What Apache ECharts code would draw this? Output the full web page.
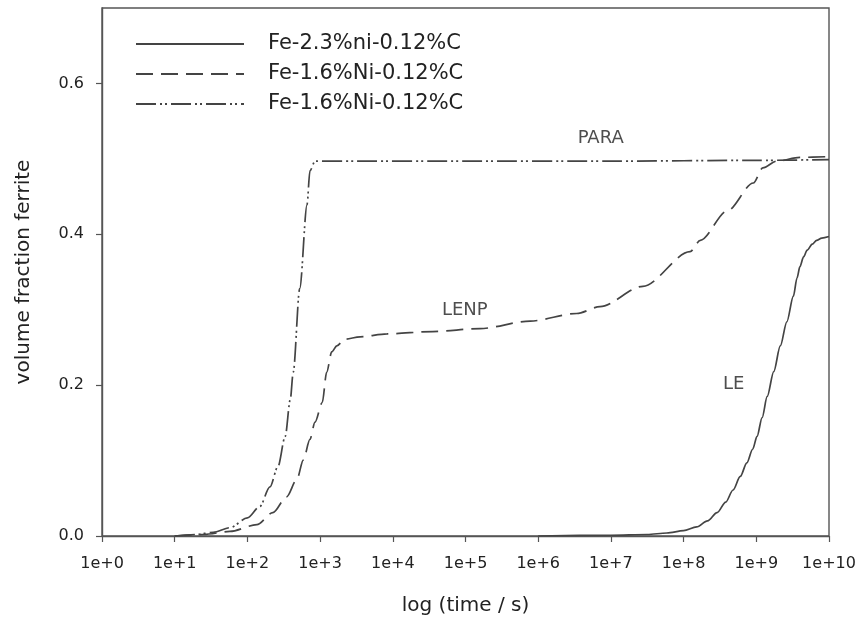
<!DOCTYPE html>
<html>
<head>
<meta charset="utf-8">
<script src="https://cdn.jsdelivr.net/npm/echarts@6/dist/echarts.min.js"></script>
<style>
  html, body { margin: 0; padding: 0; background: #fff; }
  #chart { width: 860px; height: 625px; }
</style>
</head>
<body>
<div id="chart"></div>
<script>
// x values are log10(time / s); y values are the ferrite volume fraction.

// Fe-2.3%Ni-0.12%C, local equilibrium (LE)
const leLogTime = [6.0, 7.0, 7.5, 7.77, 8.0, 8.18, 8.33, 8.46, 8.58, 8.68, 8.78, 8.87, 8.95, 9.01, 9.08, 9.15, 9.24, 9.33, 9.42, 9.51, 9.56, 9.6, 9.65, 9.7, 9.77, 9.83, 9.9, 10.0];
const leFraction = [0.000, 0.001, 0.002, 0.004, 0.007, 0.012, 0.020, 0.031, 0.045, 0.061, 0.079, 0.097, 0.115, 0.132, 0.157, 0.185, 0.218, 0.252, 0.284, 0.318, 0.342, 0.357, 0.370, 0.379, 0.387, 0.392, 0.395, 0.397];

// Fe-1.6%Ni-0.12%C, local equilibrium with negligible partitioning (LENP)
const lenpLogTime = [1.0, 1.4, 1.76, 2.13, 2.35, 2.54, 2.68, 2.77, 2.86, 2.93, 3.03, 3.09, 3.16, 3.23, 3.34, 3.55, 3.92, 4.55, 5.2, 5.89, 6.53, 6.85, 7.44, 8.09, 8.23, 8.6, 8.96, 9.09, 9.28, 9.6, 10.0];
const lenpFraction = [0.000, 0.002, 0.006, 0.015, 0.031, 0.052, 0.075, 0.101, 0.128, 0.151, 0.177, 0.217, 0.244, 0.252, 0.261, 0.264, 0.268, 0.271, 0.275, 0.285, 0.295, 0.304, 0.331, 0.377, 0.392, 0.431, 0.468, 0.488, 0.497, 0.502, 0.503];

// Fe-1.6%Ni-0.12%C, paraequilibrium (PARA)
const paraLogTime = [1.0, 1.3, 1.53, 1.76, 2.0, 2.17, 2.31, 2.42, 2.52, 2.59, 2.63, 2.72, 2.82, 2.86, 2.93, 3.5, 5.0, 7.0, 9.0, 10.0];
const paraFraction = [0.000, 0.002, 0.005, 0.011, 0.024, 0.039, 0.065, 0.092, 0.132, 0.181, 0.217, 0.328, 0.439, 0.484, 0.497, 0.497, 0.497, 0.497, 0.498, 0.499];

// legend entries, in series order
const seriesKeys = ['LE', 'LENP', 'PARA'];
const legendLabels = ['Fe-2.3%ni-0.12%C', 'Fe-1.6%Ni-0.12%C', 'Fe-1.6%Ni-0.12%C'];

// curve labels: [log10 time, fraction, text]
const curveLabels = [
  [6.86, 0.527, 'PARA'],
  [4.99, 0.299, 'LENP'],
  [8.69, 0.201, 'LE']
];

// axis ranges and ticks
const xMin = 0, xMax = 10, xStep = 1;
const yMin = 0, yMax = 0.7, yStep = 0.2;

const pair = (xs, ys) => xs.map((x, i) => [x, ys[i]]);

const ink = '#444444';
const textInk = '#222222';
const font = 'DejaVu Sans';

const lineBase = {
  type: 'line',
  symbol: 'none',
  smooth: 0.3,
  smoothMonotone: 'x',
  silent: true,
  z: 3
};

const chart = echarts.init(document.getElementById('chart'), null, { renderer: 'canvas' });

chart.setOption({
  animation: false,
  backgroundColor: '#ffffff',
  grid: {
    left: 102, right: 31, top: 8, bottom: 89,
    show: true, borderColor: '#555', borderWidth: 1.4, backgroundColor: 'transparent'
  },
  legend: {
    orient: 'vertical',
    left: 130, top: 28,
    itemWidth: 108, itemHeight: 14, itemGap: 8,
    data: seriesKeys,
    selectedMode: false,
    itemStyle: { opacity: 0 },
    formatter: name => legendLabels[seriesKeys.indexOf(name)],
    textStyle: { fontFamily: font, fontSize: 21, color: textInk, lineHeight: 22, padding: [0, 0, 0, 19] }
  },
  xAxis: {
    type: 'value',
    min: xMin, max: xMax, interval: xStep,
    name: 'log (time / s)',
    nameLocation: 'middle', nameGap: 60,
    nameTextStyle: { fontFamily: font, fontSize: 20, color: textInk },
    axisLine: { show: true, onZero: false, lineStyle: { color: '#555', width: 1.4 } },
    axisTick: { show: true, inside: false, length: 6, lineStyle: { color: '#555', width: 1.2 } },
    axisLabel: { margin: 20, fontFamily: font, fontSize: 16, color: textInk, formatter: v => '1e+' + v },
    splitLine: { show: false }
  },
  yAxis: {
    type: 'value',
    min: yMin, max: yMax, interval: yStep,
    name: 'volume fraction ferrite',
    nameLocation: 'middle', nameGap: 68, nameRotate: 90,
    nameTextStyle: { fontFamily: font, fontSize: 20, color: textInk },
    axisLine: { show: true, lineStyle: { color: '#555', width: 1.4 } },
    axisTick: { show: true, inside: false, length: 6, lineStyle: { color: '#555', width: 1.2 } },
    axisLabel: { margin: 18, fontFamily: font, fontSize: 16, color: textInk, showMaxLabel: false, formatter: v => v.toFixed(1) },
    splitLine: { show: false }
  },
  series: [
    Object.assign({}, lineBase, {
      name: seriesKeys[0],
      data: pair(leLogTime, leFraction),
      itemStyle: { color: ink },
      lineStyle: { color: ink, width: 1.7, type: 'solid' }
    }),
    Object.assign({}, lineBase, {
      name: seriesKeys[1],
      data: pair(lenpLogTime, lenpFraction),
      itemStyle: { color: ink },
      lineStyle: { color: ink, width: 1.7, type: [17, 8] }
    }),
    Object.assign({}, lineBase, {
      name: seriesKeys[2],
      data: pair(paraLogTime, paraFraction),
      itemStyle: { color: ink },
      lineStyle: { color: ink, width: 1.7, type: [20, 4, 2, 3, 2, 4] }
    }),
    {
      type: 'scatter',
      name: 'labels',
      silent: true,
      symbolSize: 0,
      data: curveLabels.map(d => ({ value: [d[0], d[1]], text: d[2] })),
      label: {
        show: true, position: 'inside',
        formatter: p => p.data.text,
        fontFamily: font, fontSize: 18, color: textInk
      },
      z: 4
    }
  ]
});
</script>
</body>
</html>
